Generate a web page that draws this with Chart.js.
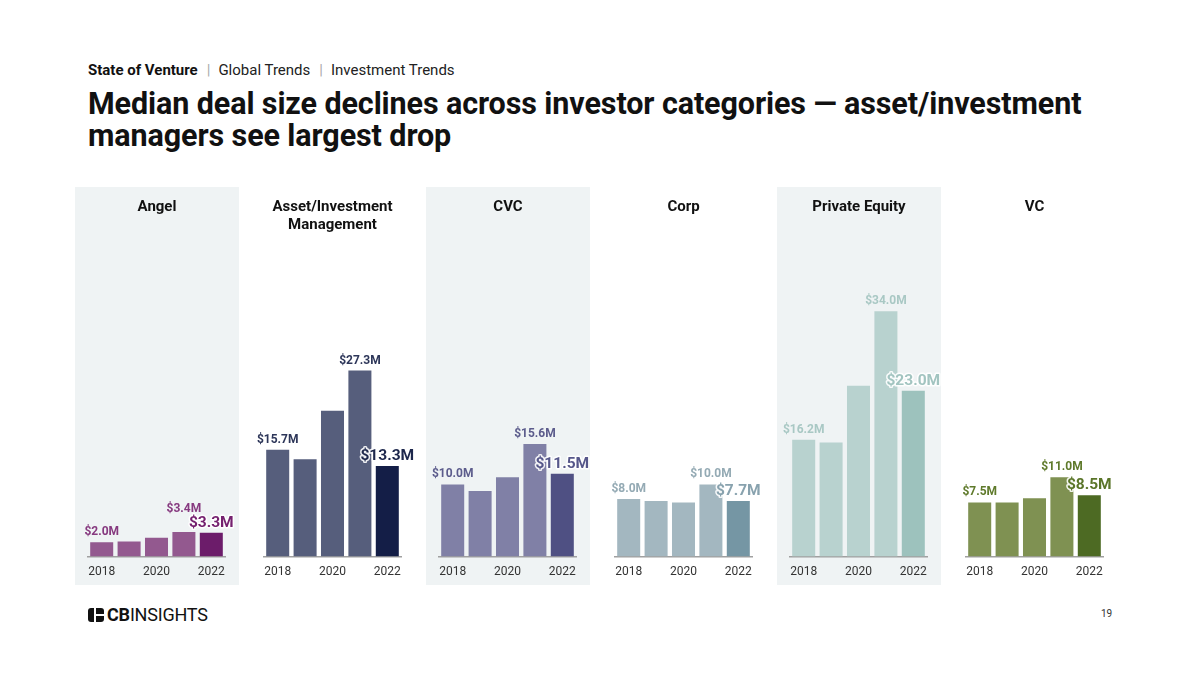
<!DOCTYPE html>
<html lang="en">
<head>
    <meta charset="UTF-8" />
    <title>Median deal size by investor category</title>
    <style>
        body { margin: 0; background: #fff; font-family: Roboto, "Noto Sans", sans-serif; color: #111; }
        .page { position: relative; width: 1200px; height: 673px; overflow: hidden; }
        .crumbs { position: absolute; left: 88px; top: 61px; font-size: 15px; color: #222; }
        .crumbs b { font-weight: 700; color: #111; }
        .crumbs .sep { color: #aaa; margin: 0 8px 0 9px; }
        .title { position: absolute; left: 88px; top: 88px; font-size: 30.5px; font-weight: 700; line-height: 32px; color: #111; letter-spacing: -0.1px; }
        .panel { position: absolute; top: 187px; width: 164px; height: 398px; }
        .panel.shade { background: #eff3f4; }
        .panel h3 { position: absolute; left: 0; right: 0; top: 10px; margin: 0 auto; width: 140px; text-align: center; font-size: 15px; font-weight: 700; line-height: 18px; color: #111; }
        .panel canvas { position: absolute; left: 0; top: 0; }
        .logo { position: absolute; left: 88px; top: 604px; font-size: 18px; color: #111; letter-spacing: -0.2px; display: flex; align-items: center; }
        .logo .mark { width: 16px; height: 14px; background: #111; border-radius: 3px; margin-right: 3px; position: relative; }
        .logo .mark:before { content: ""; position: absolute; left: 6px; top: 0; width: 2px; height: 14px; background: #fff; }
        .logo .mark:after { content: ""; position: absolute; left: 6px; top: 6px; width: 10px; height: 2px; background: #fff; }
        .pagenum { position: absolute; left: 1101px; top: 608px; font-size: 10px; color: #333; }
    </style>
</head>
<body>
<div class="page">
    <div class="crumbs"><b>State of Venture</b><span class="sep">|</span>Global Trends<span class="sep">|</span>Investment Trends</div>
    <div class="title">Median deal size declines across investor categories — asset/investment<br>managers see largest drop</div>
    <div id="panels"></div>
    <div class="logo"><span class="mark"></span><b>CB</b>INSIGHTS</div>
    <div class="pagenum">19</div>
</div>

<script src="https://cdn.jsdelivr.net/npm/chart.js@4.4.1/dist/chart.umd.min.js"></script>
<script>
    const years = ['2018', '2019', '2020', '2021', '2022'];
    const categories = ['Angel', 'Asset/Investment Management', 'CVC', 'Corp', 'Private Equity', 'VC'];

    // median deal size, $M
    const angelValues = [2.0, 2.1, 2.6, 3.4, 3.3];
    const assetMgmtValues = [15.7, 14.3, 21.4, 27.3, 13.3];
    const cvcValues = [10.0, 9.1, 11.0, 15.6, 11.5];
    const corpValues = [8.0, 7.7, 7.5, 10.0, 7.7];
    const privateEquityValues = [16.2, 15.8, 23.7, 34.0, 23.0];
    const vcValues = [7.5, 7.5, 8.1, 11.0, 8.5];

    const seriesValues = [angelValues, assetMgmtValues, cvcValues, corpValues, privateEquityValues, vcValues];

    // bar, last bar, label, last label
    const palette = [
        ['#93598f', '#6c1c6a', '#86397f', '#75216f'],
        ['#565e7c', '#141e47', '#2d3659', '#1d274c'],
        ['#8080a6', '#4f5083', '#5c5c8c', '#56578a'],
        ['#a3b7c0', '#7596a4', '#94aab4', '#88a2ae'],
        ['#b8d2cf', '#9dc2bd', '#a9c8c4', '#a2c4c0'],
        ['#7f9152', '#4d6a23', '#5f7a2b', '#5a7529']
    ];

    // the asset manager panel in the source is drawn on a slightly tighter scale
    const yMax = [42.5, 45, 42.5, 42.5, 42.5, 42.5];

    const money = v => '$' + v.toFixed(1) + 'M';

    const valueLabels = {
        id: 'valueLabels',
        afterDatasetsDraw(chart) {
            const ctx = chart.ctx;
            const meta = chart.getDatasetMeta(0);
            const data = chart.data.datasets[0].data;
            const cols = chart.options.plugins.valueLabels;
            const last = data.length - 1;
            let peak = 0;
            data.forEach((v, i) => { if (i < last && v > data[peak]) peak = i; });

            ctx.save();
            ctx.textAlign = 'center';
            ctx.textBaseline = 'alphabetic';

            // big label on the latest year, with white halo
            const lb = meta.data[last];
            const bigFont = 'bold 15.5px Roboto';
            ctx.font = bigFont;
            const lastText = money(data[last]);
            const lastY = lb.y - 6;
            const lastW = ctx.measureText(lastText).width;
            const lastTop = lastY - 12;

            // small labels: first year and the peak
            ctx.font = 'bold 12px Roboto';
            [0, peak].forEach(i => {
                const el = meta.data[i];
                const t = money(data[i]);
                const w = ctx.measureText(t).width;
                let y = el.y - 7;
                const overlapX = Math.abs(el.x - lb.x) < (w + lastW) / 2;
                if (overlapX && y > lastTop - 2) y = lastTop - 3;
                ctx.fillStyle = cols.small;
                ctx.fillText(t, el.x, y);
            });

            ctx.font = bigFont;
            ctx.lineJoin = 'round';
            ctx.lineWidth = 3;
            ctx.strokeStyle = 'rgba(255,255,255,0.9)';
            ctx.strokeText(lastText, lb.x, lastY);
            ctx.fillStyle = cols.big;
            ctx.fillText(lastText, lb.x, lastY);
            ctx.restore();
        }
    };

    function buildPanel(idx) {
        const panel = document.createElement('div');
        panel.className = 'panel' + (idx % 2 === 0 ? ' shade' : '');
        panel.style.left = (75 + idx * 175.5) + 'px';
        const h = document.createElement('h3');
        h.textContent = categories[idx];
        const wrap = document.createElement('div');
        wrap.style.cssText = 'position:absolute;left:0;top:2px;width:164px;height:398px;';
        const canvas = document.createElement('canvas');
        wrap.appendChild(canvas);
        panel.appendChild(wrap);
        panel.appendChild(h);
        document.getElementById('panels').appendChild(panel);

        const cols = palette[idx];
        const vals = seriesValues[idx];

        new Chart(canvas, {
            type: 'bar',
            data: {
                labels: years,
                datasets: [{
                    data: vals,
                    backgroundColor: vals.map((v, i) => i === vals.length - 1 ? cols[1] : cols[0]),
                    borderWidth: 0,
                    barPercentage: 0.84,
                    categoryPercentage: 1
                }]
            },
            options: {
                responsive: true,
                maintainAspectRatio: false,
                animation: false,
                layout: { padding: { left: 13, right: 14, top: 61, bottom: 0 } },
                scales: {
                    x: {
                        grid: { display: false, drawTicks: false },
                        border: { display: true, color: '#a0a0a0', width: 1.5 },
                        ticks: {
                            color: '#333',
                            padding: 8,
                            maxRotation: 0,
                            autoSkip: false,
                            font: { family: 'Roboto', size: 12 },
                            callback: (val, i) => (i % 2 === 0 ? years[i] : '')
                        }
                    },
                    y: { display: false, min: 0, max: yMax[idx] }
                },
                plugins: {
                    legend: { display: false },
                    tooltip: { enabled: false },
                    valueLabels: { small: cols[2], big: cols[3] }
                }
            },
            plugins: [valueLabels]
        });
    }

    categories.forEach((c, i) => buildPanel(i));
</script>
</body>
</html>
